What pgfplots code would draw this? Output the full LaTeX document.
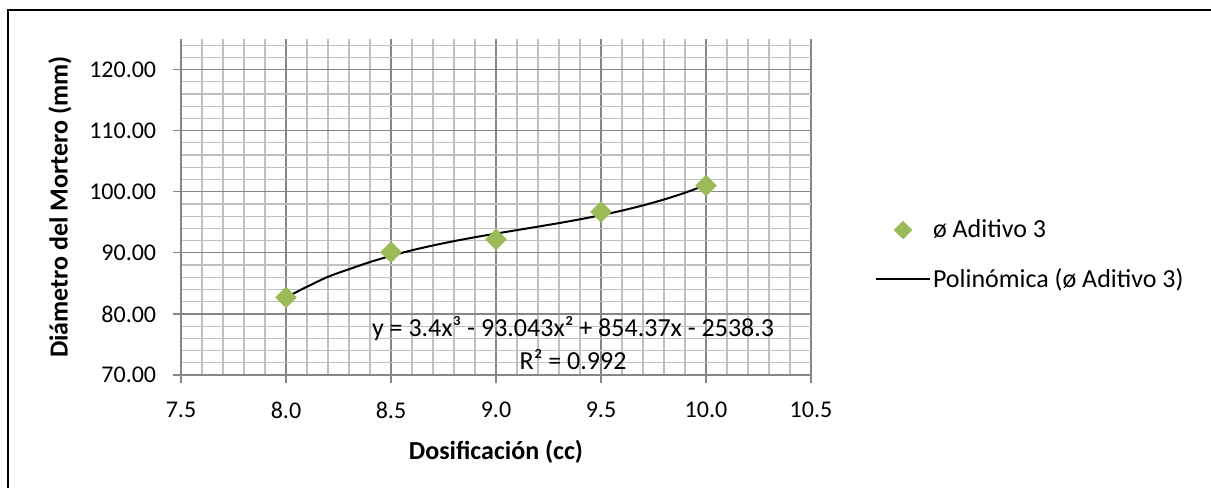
\documentclass[border=0pt]{standalone}
\usepackage{pgfplots}
\pgfplotsset{compat=1.18}
\usepackage{fontspec}
\setmainfont{Carlito}
\definecolor{gridmajor}{HTML}{868686}
\definecolor{gridminor}{HTML}{BFBFBF}
\definecolor{markgreen}{HTML}{9BBB59}

% legend samples: one diamond, and a long line
\pgfplotsset{
  markleg/.style={legend image code/.code={\draw[mark repeat=2, mark phase=2, mark size=6.3bp, ##1]
    plot coordinates {(0bp,0bp) (27bp,0bp) (54bp,0bp)};}},
  lineleg/.style={legend image code/.code={\draw[##1] (0bp,0bp) -- (54bp,0bp);}},
}

% measured diameters of the mortar for each dosage
\pgfplotstableread{
x     y
8.0   82.7
8.5   90.1
9.0   92.2
9.5   96.7
10.0  101.0
}\aditivo

% cubic trend line sampled every 0.1 cc
\pgfplotstableread{
x     y
8.0   82.708
8.1   84.445
8.2   86.074
8.3   87.315
8.4   88.488
8.5   89.513
8.6   90.412
8.7   91.205
8.8   91.911
8.9   92.552
9.0   93.147
9.1   93.718
9.2   94.284
9.3   94.866
9.4   95.484
9.5   96.159
9.6   96.912
9.7   97.761
9.8   98.729
9.9   99.835
10.0  101.100
}\tendencia

\begin{document}
\fontsize{26bp}{31bp}\selectfont
\begin{tikzpicture}[x=1bp,y=1bp]
\path[use as bounding box] (0,0) rectangle (1211,488);
\draw[black, line width=1.3bp] (8,0) -- (8,478) -- (1211,478);
\begin{axis}[
  at={(181bp,113bp)}, anchor=south west,
  scale only axis, width=630bp, height=336bp,
  xmin=7.5, xmax=10.5, ymin=70, ymax=125,
  xtick={7.5,8.0,8.5,9.0,9.5,10.0,10.5},
  ytick={70,80,90,100,110,120},
  minor xtick={7.6,7.7,7.8,7.9,8.1,8.2,8.3,8.4,8.6,8.7,8.8,8.9,9.1,9.2,9.3,9.4,9.6,9.7,9.8,9.9,10.1,10.2,10.3,10.4},
  minor ytick={72,74,76,78,82,84,86,88,92,94,96,98,102,104,106,108,112,114,116,118,122,124},
  grid=both,
  major grid style={gridmajor, line width=1.2bp},
  minor grid style={gridminor, line width=1.2bp},
  axis x line*=bottom, axis y line*=left,
  axis line style={gridmajor, line width=1.2bp, -},
  tick align=outside,
  major tick length=8bp, minor tick length=0bp,
  tick style={gridmajor, line width=1.2bp},
  /pgf/number format/assume math mode=true,
  xticklabel={\pgfmathprintnumber[fixed,fixed zerofill,precision=1]{\tick}},
  yticklabel={\pgfmathprintnumber[fixed,fixed zerofill,precision=2]{\tick}},
  ticklabel style={font=\fontsize{24bp}{29bp}\selectfont, text=black},
  xticklabel style={yshift=-10bp},
  yticklabel style={xshift=-8bp},
  xlabel={\textbf{Dosificación (cc)}},
  ylabel={\textbf{Diámetro del Mortero (mm)}},
  label style={font=\fontsize{26bp}{31bp}\selectfont},
  xlabel style={at={(axis description cs:0.5,-0.23)}, anchor=center},
  ylabel style={at={(axis description cs:-0.192,0.5)}, anchor=center},
  legend style={at={(1.1016,0.47)}, anchor=north west, draw=none, fill=none,
    inner sep=0pt, outer sep=0pt, row sep=23bp,
    font=\fontsize{26bp}{31bp}\selectfont,
    nodes={inner sep=2bp}},
  legend cell align=left,
  clip=false,
]
\addplot[only marks, mark=square*, mark size=7.4bp,
  mark options={rotate=45, fill=markgreen, draw=markgreen}, markleg]
  table[x=x, y=y] {\aditivo};
\addlegendentry{ø Aditivo 3}
\addplot[black, line width=2bp, smooth, no marks, lineleg]
  table[x=x, y=y] {\tendencia};
\addlegendentry{Polinómica (ø Aditivo 3)}
\node[anchor=base, inner sep=0pt] at (axis cs:9.367,76.22) {y = 3.4x³ - 93.043x² + 854.37x - 2538.3};
\node[anchor=base, inner sep=0pt] at (axis cs:9.367,70.82) {R² = 0.992};
\end{axis}
\end{tikzpicture}
\end{document}
